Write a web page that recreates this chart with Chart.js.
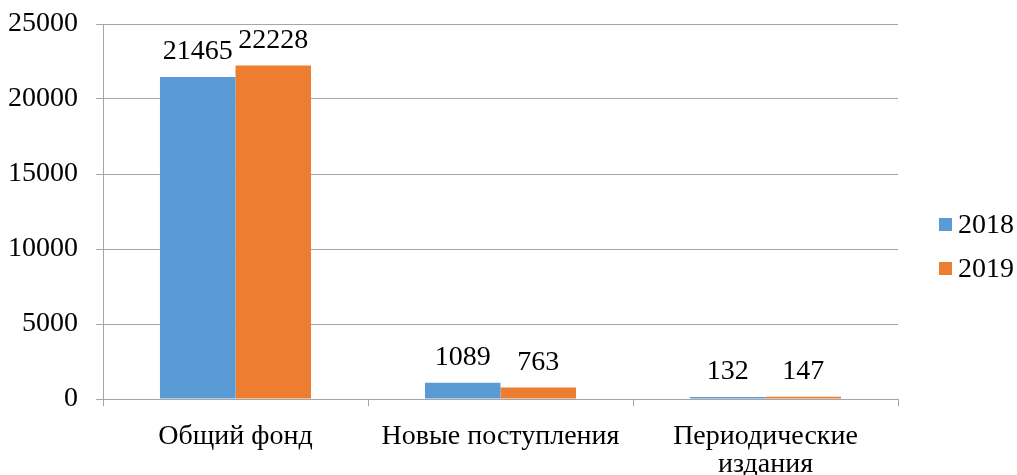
<!DOCTYPE html>
<html>
<head>
<meta charset="utf-8">
<script src="https://cdn.jsdelivr.net/npm/chart.js@4"></script>
<style>
  html, body { margin: 0; padding: 0; background: #fff; }
  #wrap { width: 1017px; height: 475px; }
</style>
</head>
<body>
<div id="wrap"><canvas id="myChart" width="1017" height="475"></canvas></div>
<script>
"use strict";

const categories = ["Общий фонд", "Новые поступления", ["Периодические", "издания"]];
const seriesNames = ["2018", "2019"];
const values2018 = [21465, 1089, 132];
const values2019 = [22228, 763, 147];
const seriesColors = ["#5B9BD5", "#ED7D31"];
const yTicks = [0, 5000, 10000, 15000, 20000, 25000];

const fontFamily = "'Liberation Serif', 'Times New Roman', serif";
const fontSize = 28;

// подписи значений над столбцами
const valueLabels = {
  id: "valueLabels",
  afterDatasetsDraw(chart) {
    const ctx = chart.ctx;
    ctx.save();
    ctx.font = fontSize + "px " + fontFamily;
    ctx.fillStyle = "#000";
    ctx.textAlign = "center";
    ctx.textBaseline = "alphabetic";
    chart.data.datasets.forEach((ds, i) => {
      chart.getDatasetMeta(i).data.forEach((bar, j) => {
        ctx.fillText(String(ds.data[j]), bar.x, bar.y - 18);
      });
    });
    ctx.restore();
  }
};

// легенда справа
const sideLegend = {
  id: "sideLegend",
  afterDraw(chart) {
    const ctx = chart.ctx;
    ctx.save();
    ctx.font = fontSize + "px " + fontFamily;
    ctx.textBaseline = "alphabetic";
    ctx.textAlign = "left";
    seriesNames.forEach((name, i) => {
      const cy = 224 + i * 44;
      ctx.fillStyle = seriesColors[i];
      ctx.fillRect(939, cy - 6, 13, 13);
      ctx.fillStyle = "#000";
      ctx.fillText(name, 958, cy + 9);
    });
    ctx.restore();
  }
};

new Chart(document.getElementById("myChart"), {
  type: "bar",
  data: {
    labels: categories,
    datasets: [
      { label: seriesNames[0], data: values2018, backgroundColor: seriesColors[0] },
      { label: seriesNames[1], data: values2019, backgroundColor: seriesColors[1] }
    ]
  },
  options: {
    responsive: false,
    animation: false,
    events: [],
    datasets: { bar: { categoryPercentage: 0.57, barPercentage: 1.0 } },
    layout: { padding: { top: 24, right: 119, left: 0, bottom: 0 } },
    plugins: { legend: { display: false }, tooltip: { enabled: false } },
    scales: {
      x: {
        grid: { drawOnChartArea: false, drawTicks: true, tickLength: 7, color: "#a6a6a6" },
        border: { color: "#a6a6a6" },
        ticks: { color: "#000", font: { family: fontFamily, size: fontSize, lineHeight: 1.0 }, padding: 17, maxRotation: 0, autoSkip: false },
        afterFit(scale) { scale.height = 76; scale.paddingLeft = 0; scale.paddingRight = 0; }
      },
      y: {
        min: 0,
        max: 25000,
        afterBuildTicks(scale) { scale.ticks = yTicks.map(v => ({ value: v })); },
        grid: { color: "#a6a6a6", tickLength: 7 },
        border: { color: "#a6a6a6" },
        ticks: {
          color: "#000",
          font: { family: fontFamily, size: fontSize },
          padding: 18,
          callback: (v) => String(v)
        },
        afterFit(scale) { scale.width = 103; scale.paddingTop = 0; scale.paddingBottom = 0; }
      }
    }
  },
  plugins: [valueLabels, sideLegend]
});
</script>
</body>
</html>
